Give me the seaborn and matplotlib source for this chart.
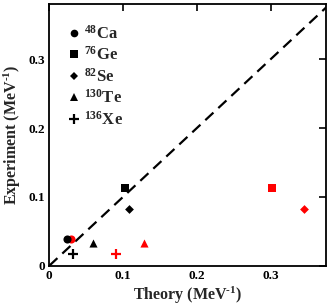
import matplotlib
matplotlib.use("Agg")
import matplotlib.pyplot as plt
import seaborn as sns
import pandas as pd
from matplotlib.lines import Line2D

nuclei = ["48Ca", "76Ge", "82Se", "130Te", "136Xe"]
labels = [r"$^{48}$Ca", r"$^{76}$Ge", r"$^{82}$Se", r"$^{130}$Te", r"$^{136}$Xe"]
experiment = [0.0384, 0.113, 0.0825, 0.0326, 0.0175]
theory_black = [0.0243, 0.1027, 0.108, 0.0587, 0.0325]
theory_red = [0.029, 0.302, 0.345, 0.129, 0.090]
markers = {"48Ca": "o", "76Ge": "s", "82Se": "D", "130Te": "^", "136Xe": "+"}
sizes = {"48Ca": 34, "76Ge": 30, "82Se": 20, "130Te": 34, "136Xe": 55}

sns.set_theme(style="white")
plt.rcParams["font.family"] = ["Liberation Serif", "DejaVu Serif"]
plt.rcParams["font.weight"] = "bold"
plt.rcParams["mathtext.fontset"] = "custom"
plt.rcParams["mathtext.rm"] = "Liberation Serif:bold"
plt.rcParams["mathtext.bf"] = "Liberation Serif:bold"
plt.rcParams["mathtext.it"] = "Liberation Serif:bold"

df = pd.DataFrame({"nucleus": nuclei * 2,
                   "theory": theory_black + theory_red,
                   "experiment": experiment + experiment,
                   "set": ["black"] * len(nuclei) + ["red"] * len(nuclei)})

fig = plt.figure(figsize=(3.34, 3.06), dpi=100)
ax = fig.add_axes([0.1476, 0.1317, 0.828, 0.8543])

lim = 0.377
ax.plot([0, lim], [0, lim], color="black", linestyle=(0, (5, 3)), linewidth=1.6, zorder=1)

for st, col, z in [("red", "red", 3), ("black", "black", 4)]:
    for n in nuclei:
        sub = df[(df["set"] == st) & (df["nucleus"] == n)]
        if markers[n] == "+":
            sns.scatterplot(data=sub, x="theory", y="experiment", marker="+", color=col,
                            s=sizes[n], linewidth=1.6, legend=False, ax=ax, zorder=z)
        else:
            sns.scatterplot(data=sub, x="theory", y="experiment", marker=markers[n], color=col,
                            s=sizes[n], linewidth=0, legend=False, ax=ax, zorder=z)

ax.set_xlim(0, 0.375)
ax.set_ylim(0, 0.38)
ax.set_xticks([0, 0.1, 0.2, 0.3])
ax.set_xticklabels(["0", "0.1", "0.2", "0.3"])
ax.set_yticks([0, 0.1, 0.2, 0.3])
ax.set_yticklabels(["0", "0.1", "0.2", "0.3"])
ax.tick_params(direction="in", length=5, width=1.2, top=True, right=True,
               labelsize=9.5, pad=3, color="black", labelcolor="black")
for lab in ax.get_xticklabels() + ax.get_yticklabels():
    lab.set_fontweight("bold")
for sp in ax.spines.values():
    sp.set_linewidth(1.3)
    sp.set_color("black")

ax.set_xlabel(r"Theory (MeV$^{\text{-}1}$)", fontsize=11.5, fontweight="bold", labelpad=2)
ax.set_ylabel(r"Experiment (MeV$^{\text{-}1}$)", fontsize=11.5, fontweight="bold", labelpad=4)

handles = []
for n in nuclei:
    m = markers[n]
    if m == "+":
        h = Line2D([], [], marker="+", color="black", linestyle="none", markersize=7.5, markeredgewidth=1.6)
    else:
        h = Line2D([], [], marker=m, color="black", linestyle="none",
                   markersize=5.5 if m != "D" else 4.5, markeredgewidth=0)
    handles.append(h)
ax.legend(handles, labels, loc="upper left", frameon=False, fontsize=12,
          handletextpad=0.1, labelspacing=0.22, borderaxespad=0.0,
          bbox_to_anchor=(0.035, 0.948), handlelength=1.0)

fig.savefig("out.png", dpi=100)
